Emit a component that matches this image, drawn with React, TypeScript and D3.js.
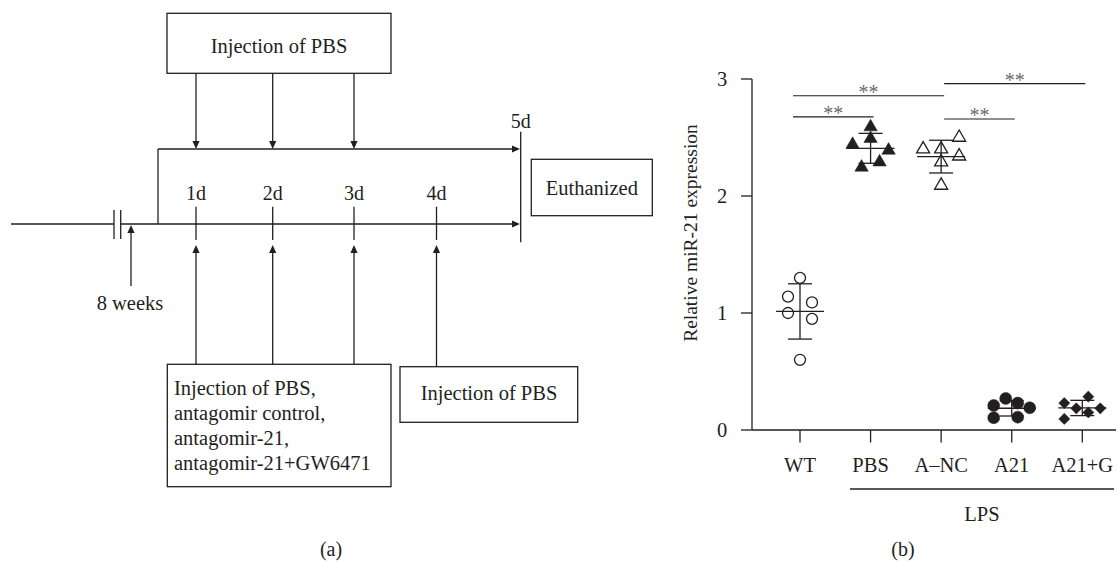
import React from "react";
import * as d3 from "d3";

// ---------- Panel (b) data ----------
const categories = ["WT", "PBS", "A\u2013NC", "A21", "A21+G"];
const wtValues = [1.3, 1.14, 1.09, 1.0, 0.95, 0.6];
const pbsValues = [2.59, 2.49, 2.44, 2.39, 2.29, 2.245];
const ancValues = [2.5, 2.4, 2.4, 2.34, 2.29, 2.09];
const a21Values = [0.27, 0.21, 0.23, 0.19, 0.105, 0.11];
const a21gValues = [0.285, 0.23, 0.185, 0.185, 0.15, 0.095];
// horizontal spread of each dot within its group (in units of 6 px)
const wtJitter = [0, -2, 2, -2, 2, 0];
const pbsJitter = [0, 0, -3, 3, 1.5, -1.5];
const ancJitter = [3, -3, 0, 3, 0, 0];
const a21Jitter = [-1, -3, 1, 3, -3, 1];
const a21gJitter = [1, -3, -1, 3, 1, -3];
const yTicks = [0, 1, 2, 3];
const comparisonFrom = ["WT", "WT", "A\u2013NC", "A\u2013NC"];
const comparisonTo = ["PBS", "A\u2013NC", "A21", "A21+G"];
const comparisonLevel = [2.677, 2.857, 2.658, 2.96];
const comparisonLabel = ["**", "**", "**", "**"];
const groupLabel = "LPS";
const yAxisTitle = "Relative miR-21 expression";

// ---------- Panel (a) data ----------
const dayLabels = ["1d", "2d", "3d", "4d", "5d"];
const topInjectionDays = [1, 2, 3];
const bottomTreatmentDays = [1, 2, 3];
const bottomPbsDays = [4];
const topBoxText = "Injection of PBS";
const treatmentLines = [
  "Injection of PBS,",
  "antagomir control,",
  "antagomir-21,",
  "antagomir-21+GW6471",
];
const pbsBoxText = "Injection of PBS";
const endText = "Euthanized";
const startText = "8 weeks";

const INK = "#231f20";
const FONT = "'Liberation Serif', 'Times New Roman', serif";

function Arrow({ x1, y1, x2, y2 }: { x1: number; y1: number; x2: number; y2: number }) {
  const ang = Math.atan2(y2 - y1, x2 - x1);
  const L = 8;
  const W = 3.6;
  const bx = x2 - L * Math.cos(ang);
  const by = y2 - L * Math.sin(ang);
  const px = -Math.sin(ang) * W;
  const py = Math.cos(ang) * W;
  return (
    <g>
      <line x1={x1} y1={y1} x2={bx} y2={by} stroke={INK} strokeWidth={1.3} />
      <path d={`M${x2},${y2}L${bx + px},${by + py}L${bx - px},${by - py}Z`} fill={INK} />
    </g>
  );
}

function PanelA() {
  const day = d3.scaleLinear().domain([1, 2, 3, 4, 5]).range([196, 272.7, 354, 436.5, 520.7]);
  const lineY = 224;
  const upperY = 149;
  return (
    <g fontFamily={FONT} fill={INK}>
      {/* top box */}
      <rect x={167} y={13.3} width={224} height={60} fill="none" stroke={INK} strokeWidth={1.3} />
      <text x={279} y={52.5} fontSize={20.5} textAnchor="middle">{topBoxText}</text>
      {topInjectionDays.map((d) => (
        <Arrow key={"t" + d} x1={day(d)} y1={73.3} x2={day(d)} y2={upperY} />
      ))}
      {/* upper track */}
      <line x1={158} y1={lineY} x2={158} y2={upperY} stroke={INK} strokeWidth={1.3} />
      <Arrow x1={158} y1={upperY} x2={520} y2={upperY} />
      {/* main timeline */}
      <line x1={11} y1={lineY} x2={114} y2={lineY} stroke={INK} strokeWidth={1.3} />
      <line x1={114} y1={210} x2={114} y2={239} stroke={INK} strokeWidth={1.3} />
      <line x1={120.7} y1={210} x2={120.7} y2={239} stroke={INK} strokeWidth={1.3} />
      <Arrow x1={120.7} y1={lineY} x2={520} y2={lineY} />
      {/* start arrow */}
      <Arrow x1={131} y1={286} x2={131} y2={lineY + 1} />
      <text x={130} y={310} fontSize={20.5} textAnchor="middle">{startText}</text>
      {/* day ticks and labels */}
      {dayLabels.slice(0, 4).map((lab, i) => (
        <g key={lab}>
          <line x1={day(i + 1)} y1={206.7} x2={day(i + 1)} y2={240} stroke={INK} strokeWidth={1.3} />
          <text x={day(i + 1)} y={200} fontSize={20} textAnchor="middle">{lab}</text>
        </g>
      ))}
      <line x1={day(5)} y1={131.7} x2={day(5)} y2={242.3} stroke={INK} strokeWidth={1.3} />
      <text x={day(5)} y={128.3} fontSize={20} textAnchor="middle">{dayLabels[4]}</text>
      {/* euthanized */}
      <rect x={531.3} y={159.3} width={121} height={56.4} fill="none" stroke={INK} strokeWidth={1.3} />
      <text x={591.8} y={195} fontSize={20.5} textAnchor="middle">{endText}</text>
      {/* bottom arrows */}
      {bottomTreatmentDays.map((d) => (
        <Arrow key={"b" + d} x1={day(d)} y1={364.3} x2={day(d)} y2={245} />
      ))}
      {bottomPbsDays.map((d) => (
        <Arrow key={"p" + d} x1={day(d)} y1={366.7} x2={day(d)} y2={245} />
      ))}
      <rect x={167.3} y={364.3} width={223.7} height={122.4} fill="none" stroke={INK} strokeWidth={1.3} />
      {treatmentLines.map((t, i) => (
        <text key={t} x={174} y={395 + i * 25} fontSize={20.5}>{t}</text>
      ))}
      <rect x={400} y={366.7} width={177.7} height={55.6} fill="none" stroke={INK} strokeWidth={1.3} />
      <text x={489} y={400} fontSize={20.5} textAnchor="middle">{pbsBoxText}</text>
      <text x={331} y={556} fontSize={20} textAnchor="middle">(a)</text>
    </g>
  );
}

function PanelB() {
  const x = d3.scalePoint<string>().domain(categories).range([800, 1082.3]);
  const y = d3.scaleLinear().domain([0, 3]).range([430, 79]);
  const groups = [
    { name: categories[0], values: wtValues, jitter: wtJitter, shape: "circle", filled: false },
    { name: categories[1], values: pbsValues, jitter: pbsJitter, shape: "triangle", filled: true },
    { name: categories[2], values: ancValues, jitter: ancJitter, shape: "triangle", filled: false },
    { name: categories[3], values: a21Values, jitter: a21Jitter, shape: "circle", filled: true },
    { name: categories[4], values: a21gValues, jitter: a21gJitter, shape: "diamond", filled: true },
  ];
  const symbolFor = (shape: string, filled: boolean) => {
    if (shape === "circle") return d3.symbol().type(d3.symbolCircle).size(filled ? 113 : 95)()!;
    if (shape === "triangle") return d3.symbol().type(d3.symbolTriangle).size(filled ? 78 : 74)()!;
    return d3.symbol().type(d3.symbolSquare).size(62)()!;
  };
  const axisX0 = 752;
  const axisX1 = 1116;
  const stroke = 1.3;
  return (
    <g fontFamily={FONT} fill={INK}>
      {/* y axis */}
      <line x1={axisX0} y1={y(3)} x2={axisX0} y2={y(0)} stroke={INK} strokeWidth={stroke} />
      {yTicks.map((t) => (
        <g key={t}>
          <line x1={axisX0 - 11} y1={y(t)} x2={axisX0} y2={y(t)} stroke={INK} strokeWidth={stroke} />
          <text x={722} y={y(t) + 7} fontSize={20.5} textAnchor="middle">{t}</text>
        </g>
      ))}
      <text
        transform={`translate(697,${233}) rotate(-90)`}
        fontSize={19.5}
        textAnchor="middle"
      >
        {yAxisTitle}
      </text>
      {/* x axis */}
      <line x1={axisX0} y1={y(0)} x2={axisX1} y2={y(0)} stroke={INK} strokeWidth={stroke} />
      {categories.map((c) => (
        <g key={c}>
          <line x1={x(c)!} y1={y(0)} x2={x(c)!} y2={y(0) + 12.5} stroke={INK} strokeWidth={stroke} />
          <text x={x(c)!} y={472} fontSize={20.5} textAnchor="middle">{c}</text>
        </g>
      ))}
      <line x1={850} y1={489} x2={1114} y2={489} stroke={INK} strokeWidth={stroke} />
      <text x={982} y={521} fontSize={20.5} textAnchor="middle">{groupLabel}</text>
      {/* points */}
      {groups.map((g) => {
        const cx = x(g.name)!;
        const path = symbolFor(g.shape, g.filled);
        return (
          <g key={g.name}>
            {g.values.map((v, i) => (
              <path
                key={i}
                d={path}
                transform={`translate(${cx + g.jitter[i] * 6},${y(v)})${g.shape === "diamond" ? " rotate(45)" : ""}`}
                fill={g.filled ? INK : "none"}
                stroke={INK}
                strokeWidth={g.filled ? 0.5 : 1.3}
              />
            ))}
          </g>
        );
      })}
      {/* mean and SD */}
      {groups.map((g) => {
        const cx = x(g.name)!;
        const m = d3.mean(g.values)!;
        const sd = d3.deviation(g.values)!;
        return (
          <g key={"e" + g.name} stroke={INK} strokeWidth={stroke}>
            <line x1={cx - 24} x2={cx + 24} y1={y(m)} y2={y(m)} />
            <line x1={cx} x2={cx} y1={y(m + sd)} y2={y(m - sd)} />
            <line x1={cx - 12} x2={cx + 12} y1={y(m + sd)} y2={y(m + sd)} />
            <line x1={cx - 12} x2={cx + 12} y1={y(m - sd)} y2={y(m - sd)} />
          </g>
        );
      })}
      {/* significance */}
      {comparisonFrom.map((f, i) => {
        const x1 = x(f)! + (f === "WT" ? -7 : 3);
        const x2 = x(comparisonTo[i])! + 3;
        const ly = y(comparisonLevel[i]);
        return (
          <g key={"s" + i}>
            <line x1={x1} x2={x2} y1={ly} y2={ly} stroke={INK} strokeWidth={1.2} />
            <text x={(x1 + x2) / 2} y={ly + 3} fontSize={20} textAnchor="middle" fill="#6a6a6a">
              {comparisonLabel[i]}
            </text>
          </g>
        );
      })}
      <text x={903} y={556} fontSize={20} textAnchor="middle">(b)</text>
    </g>
  );
}

export default function App() {
  return (
    <svg
      width={1118}
      height={562}
      viewBox="0 0 1118 562"
      style={{ position: "absolute", left: 0, top: 0, display: "block", background: "#fff" }}
    >
      <rect width={1118} height={562} fill="#fff" />
      <PanelA />
      <PanelB />
    </svg>
  );
}
